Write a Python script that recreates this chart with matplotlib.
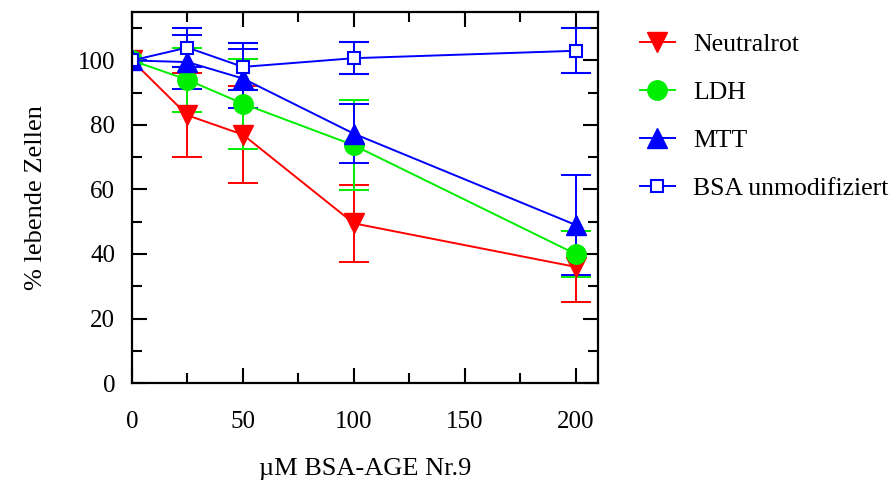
import numpy as np
import matplotlib.pyplot as plt
from matplotlib.lines import Line2D
from matplotlib.ticker import MultipleLocator

# concentrations (uM BSA-AGE Nr.9)
conc = [0, 25, 50, 100, 200]

# % living cells, mean and error
neutralrot = [100, 83, 77, 49.5, 36]
neutralrot_err = [0, 13, 15, 12, 11]
ldh = [100, 94, 86.6, 73.7, 40]
ldh_err = [0, 10, 14, 14, 7]
mtt = [100, 99.5, 94.4, 77.3, 49]
mtt_err = [0, 8.5, 9, 9.2, 15.5]
bsa = [100, 104, 98, 100.7, 103]
bsa_err = [0, 6, 7.3, 5, 7]

labels = ['Neutralrot', 'LDH', 'MTT', 'BSA unmodifiziert']

plt.rcParams['font.family'] = ['Liberation Serif', 'DejaVu Serif']

fig = plt.figure(figsize=(8.95, 4.83), dpi=100)
ax = fig.add_axes([0.1475, 0.207, 0.5205, 0.768])

common = dict(capsize=11, elinewidth=1.4, capthick=1.4, linewidth=1.4)
styles = [
    dict(color='#ff0000', marker='v', markersize=14),
    dict(color='#00ee00', marker='o', markersize=14),
    dict(color='#0000ff', marker='^', markersize=14),
    dict(color='#0000ff', marker='s', markersize=9, markerfacecolor='white', markeredgewidth=1.5),
]
series = [(neutralrot, neutralrot_err), (ldh, ldh_err), (mtt, mtt_err), (bsa, bsa_err)]
for (y, e), st in zip(series, styles):
    ax.errorbar(conc, y, yerr=e, **st, **common)

ax.set_xlim(0, 210)
ax.set_ylim(0, 115)
ax.xaxis.set_major_locator(MultipleLocator(50))
ax.xaxis.set_minor_locator(MultipleLocator(25))
ax.yaxis.set_major_locator(MultipleLocator(20))
ax.yaxis.set_minor_locator(MultipleLocator(10))
ax.tick_params(which='both', direction='in', top=True, right=True, width=1.5, labelsize=18)
ax.tick_params(which='major', length=11)
ax.tick_params(which='minor', length=7)
ax.tick_params(axis='x', which='major', pad=20)
ax.tick_params(axis='y', which='major', pad=12)
for s in ax.spines.values():
    s.set_linewidth(1.6)

ax.set_xlabel('µM BSA-AGE Nr.9', fontsize=19, labelpad=18)
ax.set_ylabel('% lebende Zellen', fontsize=19, labelpad=22)

handles = [Line2D([], [], linewidth=1.4, **st) for st in styles]
fig.legend(handles, labels, loc='upper left', bbox_to_anchor=(640 / 895, 1 - 33 / 483),
           frameon=False, borderpad=0, borderaxespad=0,
           fontsize=18.5, handlelength=1.36, labelspacing=0.97, handletextpad=0.7)

fig.savefig('out.png', dpi=100)
